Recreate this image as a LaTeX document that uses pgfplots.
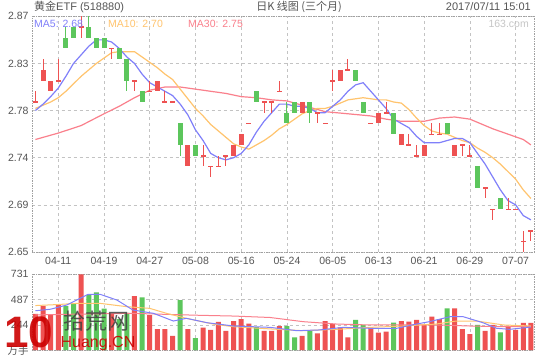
\documentclass[border=0pt]{standalone}
\usepackage{pgfplots}
\pgfplotsset{compat=1.18}
\usepackage{pgfplotstable}
\usepackage{fontspec}
\setmainfont{Liberation Sans}
\newfontfamily\cjk{Noto Sans CJK SC}

\definecolor{upred}{RGB}{238,82,82}
\definecolor{dngreen}{RGB}{92,198,92}
\definecolor{ma5c}{RGB}{128,128,250}
\definecolor{ma10c}{RGB}{255,196,110}
\definecolor{ma30c}{RGB}{250,128,140}
\definecolor{txt}{RGB}{85,85,85}
\definecolor{gridc}{RGB}{195,195,195}
\definecolor{framec}{RGB}{160,160,160}

\pgfplotstableread{
i o h l c
0 2.79 2.80 2.79 2.79
1 2.81 2.83 2.81 2.82
2 2.80 2.81 2.80 2.81
3 2.81 2.83 2.81 2.81
6 2.86 2.87 2.85 2.86
10 2.84 2.84 2.83 2.84
13 2.81 2.81 2.80 2.81
15 2.80 2.81 2.80 2.80
16 2.80 2.81 2.80 2.81
17 2.79 2.80 2.79 2.79
18 2.79 2.79 2.79 2.79
20 2.73 2.75 2.73 2.75
22 2.74 2.75 2.73 2.74
23 2.73 2.73 2.72 2.73
24 2.73 2.74 2.73 2.73
25 2.74 2.74 2.73 2.74
26 2.74 2.75 2.74 2.75
27 2.75 2.76 2.75 2.76
28 2.77 2.77 2.77 2.77
30 2.79 2.79 2.78 2.79
31 2.79 2.79 2.78 2.79
32 2.80 2.81 2.80 2.80
35 2.78 2.79 2.78 2.79
37 2.78 2.78 2.77 2.78
38 2.77 2.77 2.77 2.77
39 2.81 2.82 2.80 2.81
40 2.81 2.82 2.81 2.82
41 2.82 2.83 2.82 2.82
44 2.77 2.77 2.77 2.77
45 2.77 2.78 2.77 2.78
46 2.78 2.79 2.78 2.78
48 2.75 2.76 2.75 2.76
49 2.75 2.76 2.75 2.75
50 2.74 2.75 2.74 2.74
51 2.74 2.75 2.74 2.75
52 2.76 2.77 2.76 2.76
53 2.76 2.77 2.76 2.76
55 2.74 2.75 2.74 2.75
56 2.75 2.75 2.74 2.75
57 2.74 2.75 2.74 2.74
59 2.71 2.71 2.70 2.71
60 2.69 2.69 2.68 2.69
62 2.69 2.70 2.69 2.69
63 2.69 2.69 2.69 2.69
64 2.66 2.67 2.65 2.66
65 2.67 2.67 2.66 2.67
}\redk

\pgfplotstableread{
i o h l c
4 2.85 2.86 2.84 2.84
5 2.86 2.86 2.85 2.85
7 2.86 2.87 2.85 2.85
8 2.85 2.85 2.84 2.84
9 2.85 2.85 2.84 2.84
11 2.84 2.84 2.83 2.83
12 2.83 2.83 2.80 2.81
14 2.80 2.80 2.79 2.79
19 2.77 2.77 2.74 2.75
21 2.75 2.75 2.74 2.74
29 2.80 2.80 2.79 2.79
33 2.78 2.79 2.77 2.77
34 2.79 2.79 2.78 2.78
36 2.79 2.79 2.77 2.78
42 2.82 2.82 2.81 2.81
43 2.79 2.79 2.78 2.78
47 2.78 2.78 2.76 2.76
54 2.77 2.77 2.76 2.76
58 2.73 2.73 2.71 2.71
61 2.70 2.70 2.69 2.69
}\greenk

\pgfplotstableread{
i v
0 350
1 426
2 339
3 435
6 731
10 355
13 522
15 339
16 204
17 204
18 137
20 204
22 217
23 195
24 272
25 185
26 281
27 300
28 255
30 185
31 185
32 233
35 137
37 162
38 281
39 252
40 220
41 124
44 217
45 169
46 178
48 281
49 275
50 291
51 243
52 323
53 300
55 403
56 204
57 156
59 185
60 243
62 226
63 195
64 262
65 262
}\redv

\pgfplotstableread{
i v
4 425
5 445
7 532
8 557
9 400
11 300
12 360
14 509
19 483
21 117
29 223
33 233
34 124
36 185
42 291
43 243
47 265
54 403
58 243
61 172
}\greenv

\pgfplotsset{
  chartbase/.style={
    scale only axis, anchor=south west,
    width=502.3bp,
    xmin=-0.485, xmax=65.41,
    enlargelimits=false,
    axis line style={framec, dash pattern=on 1.5bp off 1bp},
    grid=major,
    grid style={gridc, dash pattern=on 3bp off 3bp, line width=0.6bp},
    major tick length=0pt,
    tick label style={font=\fontsize{10.5bp}{12bp}\selectfont, text=txt},
    xtick={3,9,15,21,27,33,39,45,51,57,63},
    yticklabel style={inner sep=0pt, xshift=-3bp},
  },
  candle/.style={#1, only marks, mark size=0pt,
    mark options={draw=none, fill=none},
    error bars/.cd, y dir=both, y explicit, error mark=none},
}

\begin{document}
\begin{tikzpicture}
\path[fill=white, use as bounding box] (0,0) rectangle (540bp,360bp);

% price panel
\begin{axis}[chartbase,
  at={(31.7bp,108bp)}, height=235.7bp,
  ymin=2.65, ymax=2.87,
  ytick={2.65,2.694,2.738,2.782,2.826,2.87},
  yticklabels={2.65,2.69,2.74,2.78,2.83,2.87},
  xticklabels={04-11,04-19,04-27,05-08,05-16,05-24,06-05,06-13,06-21,06-29,07-07},
  xticklabel style={inner sep=0pt, yshift=-4.5bp},
]
% moving averages
\addplot[ma30c, line width=1.2bp, mark=none] coordinates {
(0,2.755) (3,2.761) (6,2.768) (9,2.779) (11,2.786) (13,2.794) (15,2.801) (17,2.804) (19,2.804) (21,2.802) (23,2.800) (25,2.798) (27,2.795) (29,2.794) (31,2.792) (33,2.791) (35,2.787) (38,2.781) (41,2.779) (44,2.777) (46,2.774) (48,2.772) (51,2.772) (53,2.775) (55,2.776) (57,2.774) (58,2.771) (60,2.765) (62,2.760) (64,2.755) (65,2.750)};
\addplot[ma10c, line width=1.2bp, mark=none] coordinates {
(0,2.784) (1,2.787) (2,2.790) (3,2.794) (4,2.800) (5,2.807) (6,2.814) (7,2.820) (8,2.826) (9,2.831) (10,2.836) (11,2.837) (12,2.837) (13,2.837) (14,2.832) (15,2.827) (16,2.822) (17,2.816) (18,2.811) (19,2.802) (20,2.793) (21,2.784) (22,2.777) (23,2.769) (24,2.763) (25,2.757) (26,2.751) (27,2.748) (28,2.746) (29,2.750) (30,2.754) (31,2.759) (32,2.765) (33,2.769) (34,2.774) (35,2.779) (36,2.782) (37,2.784) (38,2.784) (39,2.786) (40,2.789) (41,2.792) (42,2.793) (43,2.794) (44,2.793) (45,2.792) (46,2.792) (47,2.790) (48,2.789) (49,2.783) (50,2.775) (51,2.768) (52,2.763) (53,2.761) (54,2.760) (55,2.757) (56,2.754) (57,2.752) (58,2.747) (59,2.743) (60,2.738) (61,2.732) (62,2.725) (63,2.718) (64,2.708) (65,2.700)};
\addplot[ma5c, line width=1.2bp, mark=none] coordinates {
(0,2.782) (1,2.788) (2,2.795) (3,2.803) (4,2.814) (5,2.826) (6,2.834) (7,2.842) (8,2.848) (9,2.848) (10,2.846) (11,2.840) (12,2.832) (13,2.826) (14,2.816) (15,2.808) (16,2.804) (17,2.800) (18,2.796) (19,2.788) (20,2.778) (21,2.764) (22,2.754) (23,2.742) (24,2.738) (25,2.736) (26,2.738) (27,2.742) (28,2.750) (29,2.762) (30,2.772) (31,2.780) (32,2.788) (33,2.788) (34,2.786) (35,2.786) (36,2.784) (37,2.780) (38,2.780) (39,2.786) (40,2.792) (41,2.800) (42,2.806) (43,2.808) (44,2.800) (45,2.792) (46,2.784) (47,2.774) (48,2.770) (49,2.766) (50,2.758) (51,2.752) (52,2.752) (53,2.752) (54,2.754) (55,2.756) (56,2.756) (57,2.752) (58,2.742) (59,2.732) (60,2.720) (61,2.708) (62,2.698) (63,2.694) (64,2.684) (65,2.680)};
% wicks
\addplot[candle=upred, error bar style={line width=1bp, upred}]
  table[x=i, y expr={(\thisrow{h}+\thisrow{l})/2}, y error expr={(\thisrow{h}-\thisrow{l})/2}] {\redk};
\addplot[candle=dngreen, error bar style={line width=1bp, dngreen}]
  table[x=i, y expr={(\thisrow{h}+\thisrow{l})/2}, y error expr={(\thisrow{h}-\thisrow{l})/2}] {\greenk};
% bodies
\addplot[candle=upred, error bar style={line width=5bp, upred}]
  table[x=i, y expr={(\thisrow{o}+\thisrow{c})/2}, y error expr={max(abs(\thisrow{c}-\thisrow{o})/2,0.0005)}] {\redk};
\addplot[candle=dngreen, error bar style={line width=5bp, dngreen}]
  table[x=i, y expr={(\thisrow{o}+\thisrow{c})/2}, y error expr={max(abs(\thisrow{c}-\thisrow{o})/2,0.0005)}] {\greenk};
\end{axis}

% volume panel
\begin{axis}[chartbase,
  at={(31.7bp,9.8bp)}, height=75.9bp,
  ymin=0, ymax=731,
  ytick={0,243.667,487.333,731},
  yticklabels={{\cjk 万手},244,487,731},
  xticklabels={},
]
\addplot[ybar, bar width=5bp, bar shift=0pt, fill=upred, draw=none] table[x=i, y=v] {\redv};
\addplot[ybar, bar width=5bp, bar shift=0pt, fill=dngreen, draw=none] table[x=i, y=v] {\greenv};
\addplot[ma30c, line width=1bp, mark=none] coordinates {
(0,340) (6,348) (12.8,355) (17.2,345) (21.6,336) (26,329) (30.8,315) (35.1,275) (39.5,252) (43.9,243) (48.2,243) (52.6,243) (57,233) (61.4,226) (65,226)};
\addplot[ma10c, line width=1bp, mark=none] coordinates {
(0,430) (3,440) (5.4,451) (8.5,451) (12,419) (15,403) (17.2,355) (19.8,307) (23.3,252) (26,226) (30.8,205) (35.1,188) (39.5,201) (43.9,220) (48.2,233) (52.6,252) (55.2,281) (57.9,281) (61.4,243) (65,233)};
\addplot[ma5c, line width=1bp, mark=none] coordinates {
(0,380) (2,395) (4.1,435) (6.9,538) (8.5,538) (10.7,483) (12.8,387) (15.5,355) (18.1,281) (19.8,307) (22.5,265) (26,233) (30.8,220) (34.3,188) (37.3,195) (40.4,220) (43.9,211) (47.4,211) (50,252) (51.7,275) (54.4,323) (56.1,323) (58.7,265) (60.5,211) (62.2,201) (65,223)};
\end{axis}

% titles and legend texts
\begin{scope}[every node/.style={font=\fontsize{11bp}{12bp}\selectfont, inner sep=0pt}]
\node[anchor=west, text=txt] at (34bp,353.5bp) {{\cjk 黄金}ETF (518880)};
\node[anchor=center, text=txt] at (299bp,353.5bp) {\cjk 日K 线图 (三个月)};
\node[anchor=east, text=txt] at (531bp,353.5bp) {2017/07/11 15:01};
\end{scope}
\begin{scope}[every node/.style={font=\fontsize{10.5bp}{12bp}\selectfont, inner sep=0pt}]
\node[anchor=east, text=gray!45] at (529bp,336.5bp) {163.com};
\node[anchor=west, text=ma5c] at (34bp,336.5bp) {MA5: 2.68};
\node[anchor=west, text=ma10c] at (108bp,336.5bp) {MA10: 2.70};
\node[anchor=west, text=ma30c] at (188bp,336.5bp) {MA30: 2.75};
\end{scope}

% watermark
\node[text=red!80!black, font=\fontsize{44bp}{44bp}\selectfont\bfseries, inner sep=0pt, opacity=0.9] at (29bp,28bp) {10};
\node[text=black!75, font=\cjk\fontsize{22bp}{22bp}\selectfont, inner sep=0pt, opacity=0.85] at (96bp,39bp) {拾荒网};
\node[text=red!80!black, font=\fontsize{16bp}{16bp}\selectfont, inner sep=0pt, opacity=0.9] at (98bp,16bp) {Huang.CN};
\end{tikzpicture}
\end{document}
